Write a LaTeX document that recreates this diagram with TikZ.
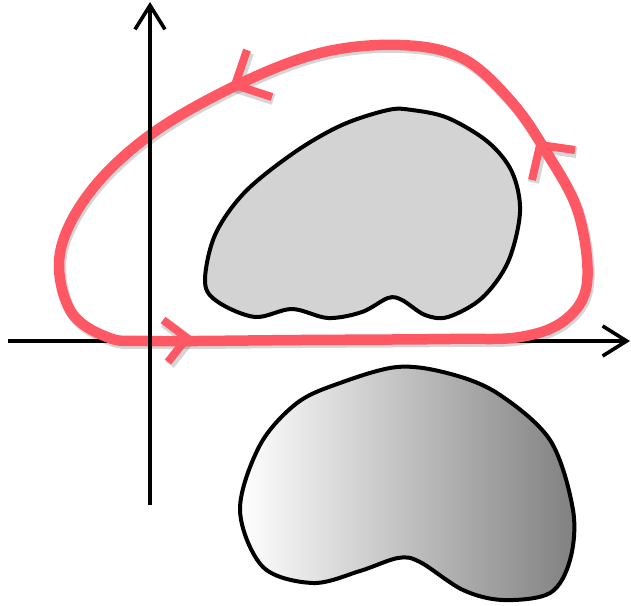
\documentclass[tikz,border=0pt]{standalone}
\usetikzlibrary{arrows.meta}
\definecolor{curvered}{RGB}{255,88,101}
\definecolor{blobgray}{RGB}{211,211,211}
\definecolor{darkend}{RGB}{128,128,128}
\tikzset{
  axisline/.style={line width=3.6pt, -{Straight Barb[length=24pt,width=30pt]}},
  redline/.style={curvered, line width=10.5pt, line join=round},
  shadowline/.style={black, opacity=0.16, line width=11pt, line join=round},
  blobline/.style={black, line width=4pt},
}
\begin{document}
\begin{tikzpicture}[x=1pt,y=-1pt]
\useasboundingbox (0,0) rectangle (631,605);
% axes end points
\coordinate (xs) at (8,341);
\coordinate (xe) at (630,341);
\coordinate (ys) at (150,505);
\coordinate (ye) at (150,2);
% horizontal axis (under the curve)
\draw[axisline] (xs) -- (xe);
% light grey region
\draw[blobline, fill=blobgray] plot[smooth cycle, tension=0.55] coordinates {
 (205,282) (218,302) (255,317) (292,309) (328,318) (362,312) (388,298) (402,300)
 (425,315) (448,317) (482,298) (508,262) (520,212) (512,172) (488,142) (448,118)
 (412,110) (388,110) (342,125) (295,152) (245,192) (215,235)};
% shaded region
\draw[blobline, left color=white, right color=darkend] plot[smooth cycle, tension=0.55] coordinates {
 (240,510) (263,567) (313,583) (360,571) (398,558) (420,562) (463,590) (503,600)
 (550,593) (570,560) (573,510) (550,440) (497,393) (447,373) (397,367) (340,383)
 (297,403) (260,445)};
% closed red curve with shadow
\def\redpath{plot[smooth cycle, tension=0.6] coordinates {
 (150,341) (300,340) (450,339) (520,337) (565,320) (587,283)
 (578,212) (545,150) (510,100) (462,58) (400,45) (320,53) (235,86)
 (150,135) (90,192) (60,253) (70,310) (107,337)}}
\begin{scope}[shift={(1.5,2.5)}]
\draw[shadowline] \redpath;
\draw[shadowline] (247,50) -- (235,85) -- (272,97);
\draw[shadowline] (575,150) -- (540,145) -- (532,180);
\draw[shadowline] (163,320) -- (187,338) -- (168,362);
\end{scope}
\draw[redline] \redpath;
% direction chevrons
\draw[redline, line width=8pt, line join=miter] (247,50) -- (235,85) -- (272,97);
\draw[redline, line width=8pt, line join=miter] (575,150) -- (540,145) -- (532,180);
\draw[redline, line width=8pt, line join=miter] (163,320) -- (187,338) -- (168,362);
% vertical axis
\draw[axisline] (ys) -- (ye);
\end{tikzpicture}
\end{document}
